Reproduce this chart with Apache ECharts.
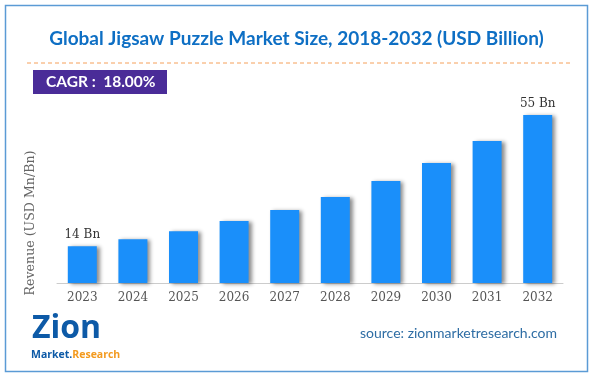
<!DOCTYPE html>
<html><head><meta charset="utf-8">
<script src="https://cdn.jsdelivr.net/npm/echarts@6/dist/echarts.min.js"></script>
<style>html,body{margin:0;padding:0;background:#fff}#c{width:593px;height:378px}</style>
</head><body><div id="c"></div>
<script>
var categories = ['2023','2024','2025','2026','2027','2028','2029','2030','2031','2032'];
var revenue = [14, 16.2, 18.7, 21.9, 25.3, 29.4, 34.4, 40, 46.9, 55];
var labelTexts = {0: '14 Bn', 9: '55 Bn'};
var titleText = 'Global Jigsaw Puzzle Market Size, 2018-2032 (USD Billion)';
var cagrText = 'CAGR :  18.00%';
var sourceText = 'source: zionmarketresearch.com';

var chart = echarts.init(document.getElementById('c'));
chart.setOption({
  animation: false,
  title: {
    text: titleText, left: 'center', top: 24,
    textStyle: {fontFamily: 'Lato', fontWeight: 'bold', fontSize: 19, color: '#0e6fc4'}
  },
  grid: {left: 57, right: 30, top: 99, bottom: 95},
  xAxis: {
    type: 'category', data: categories,
    axisLine: {lineStyle: {color: '#cccccc', width: 1}},
    axisTick: {show: false},
    axisLabel: {fontFamily: 'DejaVu Serif', fontSize: 12, color: '#555', margin: 9}
  },
  yAxis: {
    type: 'value', min: 2.5, max: 60,
    name: 'Revenue (USD Mn/Bn)', nameLocation: 'middle', nameGap: 20, nameRotate: 90,
    nameTextStyle: {fontFamily: 'DejaVu Serif', fontSize: 12.6, color: '#666', padding: [0, 64, 0, 0]},
    axisLine: {show: false}, axisTick: {show: false}, axisLabel: {show: false},
    splitLine: {show: false}
  },
  series: [{
    type: 'bar', data: revenue, barWidth: 29,
    itemStyle: {color: '#1a8ffa', shadowColor: 'rgba(0,0,0,0.45)', shadowBlur: 4, shadowOffsetX: 3, shadowOffsetY: 1},
    label: {
      show: true, position: 'top', distance: 5,
      fontFamily: 'DejaVu Serif', fontSize: 12, color: '#333',
      formatter: function (p) { return labelTexts[p.dataIndex] || ''; }
    }
  }],
  graphic: [
    {type: 'rect', shape: {x: 5.5, y: 5.5, width: 582, height: 366}, style: {fill: 'none', stroke: '#5b9bd5', lineWidth: 1.5}, z: -1},
    {type: 'line', shape: {x1: 27, y1: 63, x2: 570, y2: 63}, style: {stroke: '#f5a05a', lineWidth: 1, lineDash: [4, 3]}},
    {type: 'rect', shape: {x: 33, y: 70, width: 134, height: 24}, style: {fill: '#4a2c98'}},
    {type: 'text', left: 46, top: 74, style: {text: cagrText, fill: '#fff', font: 'bold 15.5px Lato'}},
    {type: 'text', left: 360, top: 326, style: {text: sourceText, fill: '#2e6da4', font: '14px Lato'}},
    {type: 'text', left: 32, top: 313, style: {text: 'Zion', fill: '#0d5aa7', font: 'bold 32px "Open Sans"'}},
    {type: 'text', left: 31, top: 350, style: {rich: {a: {fill: '#0d5aa7', font: 'bold 10.5px "Open Sans"'}, b: {fill: '#f39a1e', font: 'bold 10.5px "Open Sans"'}}, text: '{a|Market.}{b|Research}'}}
  ]
});
</script></body></html>
